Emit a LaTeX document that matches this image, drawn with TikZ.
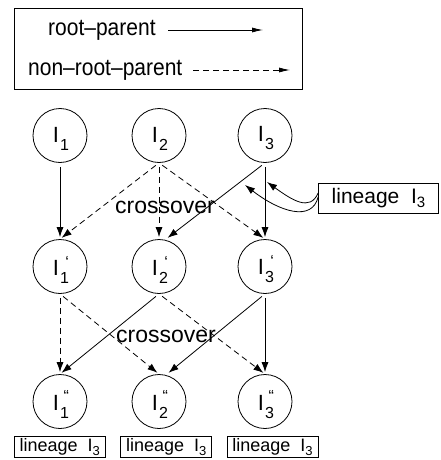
\documentclass[tikz,border=0pt]{standalone}
\usepackage{fontspec}
\setmainfont{Liberation Sans}
\usetikzlibrary{arrows.meta,calc}
\newcommand\Iv[3]{I\kern1pt\rlap{\hbox to 8.9pt{\hss\raisebox{#3}{\fontsize{16}{16}\selectfont #2}}}\raisebox{-8pt}{\fontsize{16}{16}\selectfont #1}}
\newcommand\Lin[1]{lineage\ \ I\raisebox{-4pt}{\fontsize{#1}{#1}\selectfont 3}}
\newcommand\Tall[1]{\scalebox{1}[1.12]{#1}}
\tikzset{
  ind/.style={circle,draw,line width=0.8pt,minimum size=54pt,inner sep=0pt},
  itxt/.style={inner sep=0pt,font=\fontsize{22}{22}\selectfont},
  conn/.style={line width=0.8pt,-{Latex[length=10pt,width=7pt]}},
  dconn/.style={conn,dash pattern=on 6pt off 4pt},
  lbox/.style={draw,line width=0.8pt,inner sep=0pt,minimum width=91pt,minimum height=21pt,font=\fontsize{18}{18}\selectfont},
  lab/.style={font=\fontsize{23}{23}\selectfont,inner sep=0pt},
  legt/.style={font=\fontsize{21}{21}\selectfont,inner sep=0pt,anchor=west}
}
\begin{document}
\begin{tikzpicture}[x=1pt,y=-1pt]
\useasboundingbox (0,0) rectangle (440,460);
% legend
\node[draw,line width=0.8pt,minimum width=288pt,minimum height=81pt,inner sep=0pt] (leg) at (158,48.5) {};
\node[legt] (rp) at (48,30) {\Tall{root--parent}};
\node[legt] (nrp) at (28,70) {\Tall{non--root--parent}};
\coordinate (rpa) at (168,30); \coordinate (rpb) at (263,30);
\coordinate (nra) at (193,70); \coordinate (nrb) at (290,70);
\draw[line width=0.8pt,-{Latex[length=11pt,width=5pt]}] (rpa) -- (rpb);
\draw[line width=0.8pt,dash pattern=on 6pt off 4pt,-{Latex[length=11pt,width=5pt]}] (nra) -- (nrb);
% individuals
\node[ind] (a1) at (60,135.5) {};
\node[ind] (a2) at (159,135.5) {};
\node[ind] (a3) at (265,135.5) {};
\node[ind] (b1) at (60,266.5) {};
\node[ind] (b2) at (159,266.5) {};
\node[ind] (b3) at (265,266.5) {};
\node[ind] (c1) at (60,401.5) {};
\node[ind] (c2) at (159,401.5) {};
\node[ind] (c3) at (265,401.5) {};
\node[itxt] (a1t) at ($(a1)+(1,3)$) {\Iv{1}{}{0pt}};
\node[itxt] (a2t) at ($(a2)+(1,3)$) {\Iv{2}{}{0pt}};
\node[itxt] (a3t) at ($(a3)+(1,3)$) {\Iv{3}{}{0pt}};
\node[itxt] (b1t) at ($(b1)+(1,3)$) {\Iv{1}{‘}{8pt}};
\node[itxt] (b2t) at ($(b2)+(1,3)$) {\Iv{2}{‘}{8pt}};
\node[itxt] (b3t) at ($(b3)+(1,3)$) {\Iv{3}{‘}{8pt}};
\node[itxt] (c1t) at ($(c1)+(1,3)$) {\Iv{1}{“}{9pt}};
\node[itxt] (c2t) at ($(c2)+(1,3)$) {\Iv{2}{“}{9pt}};
\node[itxt] (c3t) at ($(c3)+(1,3)$) {\Iv{3}{“}{9pt}};
% row 1 -> 2
\draw[conn,shorten <=4pt,shorten >=2pt] (a1.south) -- (b1.north);
\draw[dconn,shorten <=4pt,shorten >=2pt] (a2.south) -- (b1.north);
\draw[dconn,shorten <=4pt,shorten >=2pt] (a2.south) -- (b2.north);
\draw[dconn,shorten <=4pt,shorten >=2pt] (a2.south) -- (b3.north);
\draw[conn,shorten <=4pt,shorten >=2pt] (a3.south) -- ($(b2.north)+(7,0)$);
\draw[conn,shorten <=4pt,shorten >=2pt] (a3.south) -- (b3.north);
% row 2 -> 3
\draw[dconn,shorten <=4pt,shorten >=2pt] (b1.south) -- (c1.north);
\draw[dconn,shorten <=4pt,shorten >=2pt] (b1.south) -- (c2.north);
\draw[conn,shorten <=4pt,shorten >=2pt] (b2.south) -- (c1.north);
\draw[dconn,shorten <=4pt,shorten >=2pt] (b2.south) -- (c3.north);
\draw[conn,shorten <=4pt,shorten >=2pt] (b3.south) -- ($(c2.north)+(8,0)$);
\draw[conn,shorten <=4pt,shorten >=2pt] (b3.south) -- (c3.north);
% crossover labels
\node[lab] (x1) at (165,207) {crossover};
\node[lab] (x2) at (166,336) {crossover};
% callout
\node[draw,line width=0.8pt,inner sep=0pt,minimum width=120pt,minimum height=30pt,font=\fontsize{21}{21}\selectfont] (lin) at (378.5,198) {\Lin{15}};
\coordinate (t1) at (267,182);
\coordinate (t2) at (245,185);
\draw[conn] ($(lin.west)+(0,-5)$) .. controls (310,212) and (292,200) .. (t1);
\draw[conn] ($(lin.west)+(0,-1)$) .. controls (312,222) and (280,212) .. (t2);
% bottom boxes
\node[lbox] (l1) at (59.7,446.7) {\Lin{13}};
\node[lbox] (l2) at (166.2,446.7) {\Lin{13}};
\node[lbox] (l3) at (272.5,446.7) {\Lin{13}};
\end{tikzpicture}
\end{document}
